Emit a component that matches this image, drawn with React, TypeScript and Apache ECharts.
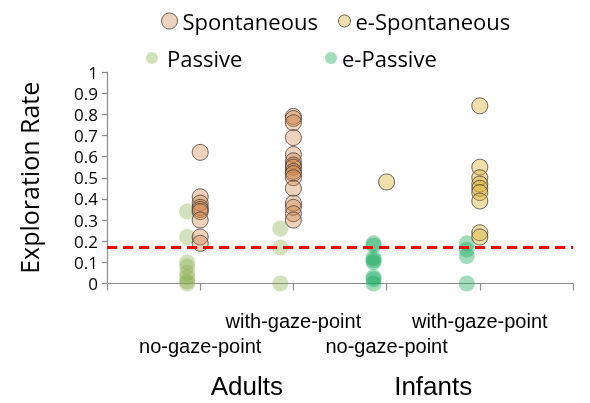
import React, { useEffect, useRef } from "react";
import * as echarts from "echarts";

// x positions (value axis 0..5)
const groupX = [1, 2, 3, 4];
const passiveOffset = 0.14;

// Exploration rates
const adultsNoGazeSpont = [0.62, 0.41, 0.38, 0.36, 0.35, 0.34, 0.3, 0.22, 0.19];
const adultsWithGazeSpont = [0.79, 0.78, 0.76, 0.69, 0.61, 0.58, 0.56, 0.55, 0.53, 0.52, 0.5, 0.45, 0.38, 0.36, 0.33, 0.3];
const adultsNoGazePassive = [0.34, 0.22, 0.1, 0.08, 0.05, 0.03, 0.01, 0.0];
const adultsWithGazePassive = [0.26, 0.17, 0.0];
const infantsNoGazeESpont = [0.48];
const infantsWithGazeESpont = [0.84, 0.55, 0.5, 0.47, 0.45, 0.43, 0.39, 0.24, 0.22];
const infantsNoGazeEPassive = [0.19, 0.18, 0.12, 0.11, 0.1, 0.03, 0.02, 0.0];
const infantsWithGazeEPassive = [0.19, 0.16, 0.13, 0.0];

const threshold = [0.175];

const conditionLabels = ["no-gaze-point", "with-gaze-point", "no-gaze-point", "with-gaze-point"];
const groupLabels = ["Adults", "Infants"];
const groupLabelX = [1.5, 3.5];
const yTicks = [0, 0.1, 0.2, 0.3, 0.4, 0.5, 0.6, 0.7, 0.8, 0.9, 1];

const pts = (x: number, vals: number[]) => vals.map((v) => [x, v]);

export default function App() {
  const ref = useRef<HTMLDivElement>(null);
  useEffect(() => {
    if (!ref.current) return;
    const chart = echarts.init(ref.current, null, { renderer: "svg" });
    const legendFont = { fontFamily: "Open Sans", fontSize: 22, color: "#000" };
    const catFont = { fontFamily: "Liberation Sans", fontSize: 20, color: "#000" };
    const legendItem = { borderWidth: 1 };
    const baseX = {
      type: "value" as const,
      min: 0,
      max: 5,
      position: "bottom" as const,
      splitLine: { show: false },
    };
    chart.setOption({
      animation: false,
      grid: { left: 107, right: 17, top: 72, bottom: 119.5, containLabel: false },
      legend: [
        { data: ["Spontaneous"], left: 161, top: 10, itemWidth: 16, itemHeight: 16, icon: "circle", padding: 0, itemStyle: legendItem, textStyle: legendFont },
        { data: ["e-Spontaneous"], left: 338, top: 10, itemWidth: 12, itemHeight: 12, icon: "circle", padding: 0, itemStyle: legendItem, textStyle: legendFont },
        { data: ["Passive"], left: 146, top: 47, itemWidth: 12, itemHeight: 12, icon: "circle", padding: 0, textStyle: { ...legendFont, padding: [0, 0, 0, 4] } },
        { data: ["e-Passive"], left: 325, top: 47, itemWidth: 12, itemHeight: 12, icon: "circle", padding: 0, textStyle: legendFont },
      ],
      xAxis: [
        {
          ...baseX,
          interval: 1,
          axisLine: { show: true, lineStyle: { color: "#8c8c8c", width: 1.2 } },
          axisTick: { show: true, length: 7, lineStyle: { color: "#8c8c8c", width: 1.2 } },
          axisLabel: { show: false },
        },
        {
          ...baseX,
          interval: 1,
          axisLine: { show: false },
          axisTick: { show: false },
          axisLabel: {
            show: true,
            margin: 27,
            ...catFont,
            formatter: (v: number) => {
              const i = groupX.indexOf(v);
              return i >= 0 && i % 2 === 1 ? conditionLabels[i] : "";
            },
          },
        },
        {
          ...baseX,
          interval: 1,
          axisLine: { show: false },
          axisTick: { show: false },
          axisLabel: {
            show: true,
            margin: 52,
            ...catFont,
            formatter: (v: number) => {
              const i = groupX.indexOf(v);
              return i >= 0 && i % 2 === 0 ? conditionLabels[i] : "";
            },
          },
        },
        {
          ...baseX,
          interval: 0.5,
          axisLine: { show: false },
          axisTick: { show: false },
          axisLabel: {
            show: true,
            margin: 89,
            fontFamily: "Liberation Sans",
            fontSize: 26,
            lineHeight: 26,
            color: "#000",
            formatter: (v: number) => {
              const i = groupLabelX.indexOf(v);
              return i >= 0 ? groupLabels[i] : "";
            },
          },
        },
      ],
      yAxis: {
        type: "value",
        min: 0,
        max: 1,
        interval: 0.1,
        name: "Exploration Rate",
        nameLocation: "middle",
        nameGap: 66,
        nameTextStyle: { fontFamily: "Open Sans", fontSize: 25, color: "#000" },
        axisLine: { show: true, lineStyle: { color: "#8c8c8c", width: 1.2 } },
        axisTick: { show: true, length: 5, lineStyle: { color: "#8c8c8c", width: 1.2 } },
        splitLine: { show: false },
        axisLabel: {
          margin: 9,
          fontFamily: "Open Sans",
          fontSize: 17,
          lineHeight: 17,
          color: "#000",
          formatter: (v: number) => {
            const t = yTicks.find((k) => Math.abs(k - v) < 1e-6);
            return t === undefined ? "" : String(t);
          },
        },
      },
      series: [
        {
          name: "Passive",
          type: "scatter",
          symbolSize: 16,
          itemStyle: { color: "rgba(130,170,70,0.45)" },
          data: [...pts(groupX[0] - passiveOffset, adultsNoGazePassive), ...pts(groupX[1] - passiveOffset, adultsWithGazePassive)],
        },
        {
          name: "e-Passive",
          type: "scatter",
          symbolSize: 16,
          itemStyle: { color: "rgba(20,170,90,0.5)" },
          data: [...pts(groupX[2] - passiveOffset, infantsNoGazeEPassive), ...pts(groupX[3] - passiveOffset, infantsWithGazeEPassive)],
        },
        {
          name: "Spontaneous",
          type: "scatter",
          symbolSize: 16,
          itemStyle: { color: "rgba(205,130,70,0.45)", borderColor: "#4d4037", borderWidth: 1 },
          data: [...pts(groupX[0], adultsNoGazeSpont), ...pts(groupX[1], adultsWithGazeSpont)],
        },
        {
          name: "e-Spontaneous",
          type: "scatter",
          symbolSize: 16,
          itemStyle: { color: "rgba(215,175,45,0.5)", borderColor: "#4d4037", borderWidth: 1 },
          data: [...pts(groupX[2], infantsNoGazeESpont), ...pts(groupX[3], infantsWithGazeESpont)],
          markLine: {
            silent: true,
            symbol: "none",
            label: { show: false },
            lineStyle: { color: "#ff0000", width: 3, type: [10, 6] },
            data: [{ yAxis: threshold[0] }],
          },
        },
      ],
    });
    return () => chart.dispose();
  }, []);
  return <div ref={ref} style={{ position: "fixed", left: 0, top: 0, width: 590, height: 403 }} />;
}
